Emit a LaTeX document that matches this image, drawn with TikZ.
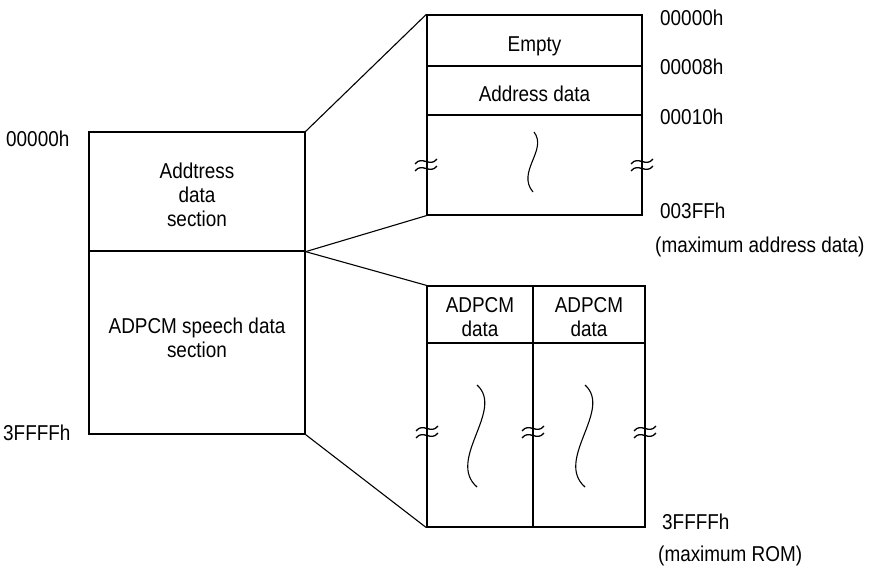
\documentclass[tikz,border=0pt]{standalone}
\usepackage{fontspec}
\setmainfont{Liberation Sans}[FakeStretch=0.88]
\begin{document}
\begin{tikzpicture}[x=1pt,y=-1pt,
  every node/.style={font=\fontsize{21.5}{24}\selectfont},
  cell/.style={draw,line width=1.3pt,rectangle,inner sep=0pt,align=center},
  lbl/.style={anchor=west,inner sep=0pt},
  link/.style={line width=1.1pt},
  wave/.style={line width=1.1pt},
  brk/.pic={\draw[line width=1.3pt] (-11,-1) .. controls (-4,-10) and (4,3) .. (11,-6);
            \draw[line width=1.3pt] (-11,6) .. controls (-4,-3) and (4,10) .. (11,1);}]
\useasboundingbox (0,0) rectangle (870,569);
% left memory map
\node[cell,minimum width=216pt,minimum height=119pt] (LA) at (197,191.5) {};
\node[cell,minimum width=216pt,minimum height=183pt] (LB) at (197,342.5) {};
\node (LAt) at (197,195) [align=center] {Addtress\\data\\section};
\node (LBt) at (197,338) [align=center] {ADPCM speech data\\section};
% top right detail
\node[cell,minimum width=215pt,minimum height=51pt] (TE) at (534.5,40.5) {};
\node[cell,minimum width=215pt,minimum height=49pt] (TA) at (534.5,90.5) {};
\node[cell,minimum width=215pt,minimum height=100pt] (TB) at (534.5,165) {};
\node (TEt) at (534.5,46) {Empty};
\node (TAt) at (534.5,94) {Address data};
% bottom right detail
\node[cell,minimum width=106pt,minimum height=57pt] (B1h) at (480,314.5) {};
\node[cell,minimum width=112pt,minimum height=57pt] (B2h) at (589,314.5) {};
\node[cell,minimum width=106pt,minimum height=184pt] (B1) at (480,435) {};
\node[cell,minimum width=112pt,minimum height=184pt] (B2) at (589,435) {};
\node (B1t) at (480,317) [align=center] {ADPCM\\data};
\node (B2t) at (589,317) [align=center] {ADPCM\\data};
% connectors
\draw[link] (LA.north east) -- (TE.north west);
\draw[link] (LA.south east) -- (TB.south west);
\draw[link] (LA.south east) -- (B1h.north west);
\draw[link] (LB.south east) -- (B1.south west);
% waves
\draw[wave] (534,132) .. controls (548,150) and (516,172) .. (533,192);
\draw[wave] (477,385) .. controls (505,410) and (446,460) .. (477,487);
\draw[wave] (585,385) .. controls (613,410) and (554,460) .. (585,487);
% break marks
\pic at (426,165) {brk};
\pic at (642,165) {brk};
\pic at (427,432) {brk};
\pic at (533,432) {brk};
\pic at (645,432) {brk};
% address labels
\node[lbl] (a0) at (6,139) {00000h};
\node[lbl] (a1) at (3,433) {3FFFFh};
\node[lbl] (r0) at (660,18) {00000h};
\node[lbl] (r1) at (660,67) {00008h};
\node[lbl] (r2) at (660,117) {00010h};
\node[lbl] (r3) at (660,211) {003FFh};
\node[lbl] (r4) at (655,247) {(maximum address data)};
\node[lbl] (r5) at (662,522) {3FFFFh};
\node[lbl] (r6) at (658,556) {(maximum ROM)};
\end{tikzpicture}
\end{document}
